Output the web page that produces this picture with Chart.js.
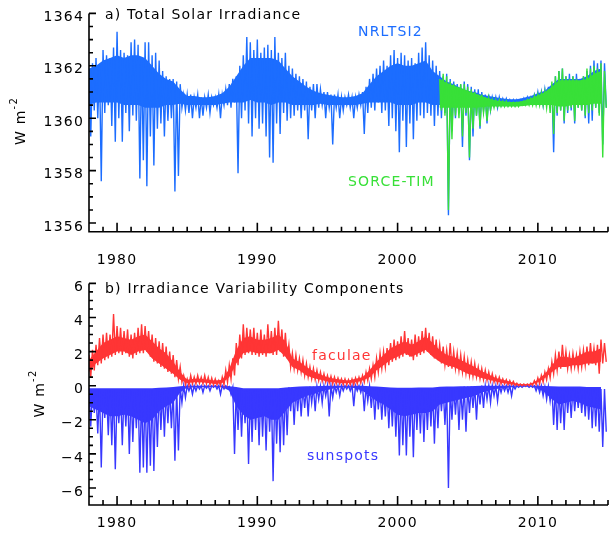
<!DOCTYPE html>
<html>
<head>
<meta charset="utf-8">
<script src="https://cdn.jsdelivr.net/npm/chart.js@4.4.1/dist/chart.umd.min.js"></script>
<style>
  body { margin: 0; background: #fff; }
  #wrap { position: relative; width: 610px; height: 535px; }
  canvas { position: absolute; left: 0; }
  #tsi { top: 0; }
  #comp { top: 270px; }
</style>
</head>
<body>
<div id="wrap">
  <canvas id="tsi" width="610" height="270"></canvas>
  <canvas id="comp" width="610" height="265"></canvas>
</div>
<script>
// spikes: one high / low pair every quarter year; dense core: every half year
const startYear = 1978
const sorceStart = 2003
const stepYears = 0.25
const coreStep = 0.5
const tickYears = [1980, 1990, 2000, 2010]
const tsiTicks = [1356, 1358, 1360, 1362, 1364]
const compTicks = [-6, -4, -2, 0, 2, 4, 6]

// NRLTSI2 total solar irradiance (W m-2), 1978.00 .. 2014.75
const nrltsiHi = [
  1361.8, 1362.1, 1362.3, 1362.0, 1362.6, 1362.4, 1362.3, 1362.7,
  1363.3, 1362.6, 1362.5, 1362.4, 1362.9, 1363.0, 1362.8, 1362.3,
  1362.9, 1362.9, 1362.4, 1362.5, 1362.2, 1361.8, 1361.6, 1361.5,
  1361.5, 1361.4, 1361.3, 1360.9, 1360.9, 1360.9, 1360.8, 1360.9,
  1360.8, 1360.8, 1360.9, 1360.8, 1360.8, 1360.9, 1360.9, 1361.1,
  1361.3, 1361.5, 1361.6, 1362.0, 1362.4, 1363.1, 1362.9, 1362.6,
  1363.0, 1362.5, 1362.7, 1362.8, 1362.6, 1363.1, 1362.5, 1362.3,
  1362.5, 1362.0, 1361.9, 1361.7, 1361.6, 1361.5, 1361.4, 1361.2,
  1361.3, 1361.3, 1361.1, 1361.0, 1361.0, 1360.9, 1360.9, 1360.9,
  1360.8, 1360.8, 1360.9, 1360.8, 1360.8, 1360.9, 1361.0, 1361.2,
  1361.5, 1361.7, 1361.9, 1362.0, 1362.2, 1362.0, 1362.4, 1362.6,
  1362.3, 1362.5, 1362.4, 1362.2, 1362.3, 1362.1, 1362.5, 1362.7,
  1362.9, 1362.4, 1362.2, 1362.0, 1361.8, 1361.6, 1361.7, 1361.5,
  1361.4, 1361.3, 1361.3, 1361.4, 1361.3, 1361.2, 1361.1, 1361.1,
  1361.0, 1360.9, 1360.9, 1360.8, 1360.8, 1360.8, 1360.75, 1360.75,
  1360.7, 1360.7, 1360.7, 1360.7, 1360.75, 1360.8, 1360.8, 1360.9,
  1361.0, 1361.0, 1361.1, 1361.2, 1361.3, 1361.6, 1361.8, 1361.9,
  1361.6, 1361.7, 1361.6, 1361.7, 1361.5, 1361.6, 1361.8, 1362.0,
  1362.2, 1362.1, 1362.2, 1362.1,
]
const nrltsiLo = [
  1359.3, 1360.3, 1360.0, 1357.6, 1360.2, 1360.5, 1359.7, 1359.1,
  1360.0, 1359.1, 1360.2, 1359.5, 1360.1, 1359.9, 1357.7, 1358.4,
  1357.4, 1359.3, 1358.2, 1359.6, 1359.8, 1359.3, 1359.9, 1360.0,
  1357.2, 1357.8, 1360.4, 1360.3, 1360.2, 1360.0, 1360.4, 1360.0,
  1360.1, 1360.4, 1360.2, 1360.5, 1360.4, 1360.0, 1360.5, 1360.5,
  1360.4, 1360.6, 1357.9, 1360.0, 1360.3, 1359.8, 1359.3, 1360.0,
  1359.6, 1359.8, 1359.3, 1358.5, 1358.3, 1359.8, 1359.4, 1360.2,
  1359.9, 1360.0, 1360.1, 1360.3, 1360.0, 1360.3, 1359.2, 1360.3,
  1360.0, 1360.4, 1360.5, 1360.0, 1360.4, 1359.0, 1360.4, 1360.0,
  1360.3, 1360.5, 1360.4, 1360.0, 1360.4, 1360.5, 1359.4, 1360.2,
  1360.4, 1360.3, 1360.6, 1360.2, 1360.3, 1359.7, 1360.0, 1359.5,
  1358.7, 1359.9, 1358.9, 1359.8, 1359.2, 1359.9, 1360.1, 1360.0,
  1360.2, 1360.1, 1359.7, 1360.1, 1360.0, 1360.2, 1356.3, 1359.5,
  1360.0, 1360.2, 1358.9, 1360.1, 1358.4, 1359.3, 1360.1, 1359.6,
  1360.3, 1359.8, 1360.3, 1360.5, 1360.4, 1360.5, 1360.55, 1360.5,
  1360.5, 1360.5, 1360.55, 1360.55, 1360.55, 1360.6, 1360.6, 1360.6,
  1360.6, 1360.5, 1360.6, 1360.4, 1358.7, 1360.1, 1360.3, 1359.8,
  1360.2, 1360.3, 1359.8, 1360.4, 1360.3, 1360.0, 1359.8, 1359.9,
  1360.4, 1360.2, 1359.0, 1360.4,
]
// NRLTSI2 dense core, 1978.0 .. 2014.5
const nrltsiCoreHi = [
  1361.9, 1362.0, 1362.2, 1362.3, 1362.4, 1362.3, 1362.4, 1362.4,
  1362.3, 1362.0, 1361.7, 1361.5, 1361.4, 1361.1, 1360.85, 1360.85,
  1360.8, 1360.8, 1360.85, 1360.95, 1361.2, 1361.6, 1362.0, 1362.3,
  1362.3, 1362.3, 1362.3, 1362.2, 1361.9, 1361.6, 1361.4, 1361.2,
  1361.05, 1360.95, 1360.9, 1360.85, 1360.8, 1360.8, 1360.85, 1360.95,
  1361.3, 1361.6, 1361.8, 1362.0, 1362.1, 1362.0, 1362.0, 1362.1,
  1362.2, 1361.8, 1361.6, 1361.4, 1361.3, 1361.15, 1361.05, 1361.0,
  1360.9, 1360.85, 1360.8, 1360.75, 1360.72, 1360.72, 1360.78, 1360.85,
  1360.95, 1361.05, 1361.3, 1361.5, 1361.5, 1361.5, 1361.5, 1361.6,
  1361.8, 1361.9,
]
const nrltsiCoreLo = [
  1360.5, 1360.6, 1360.6, 1360.6, 1360.6, 1360.5, 1360.5, 1360.5,
  1360.4, 1360.4, 1360.4, 1360.5, 1360.5, 1360.55, 1360.5, 1360.5,
  1360.5, 1360.5, 1360.5, 1360.55, 1360.6, 1360.6, 1360.6, 1360.7,
  1360.6, 1360.6, 1360.5, 1360.6, 1360.6, 1360.5, 1360.5, 1360.5,
  1360.5, 1360.55, 1360.5, 1360.5, 1360.5, 1360.5, 1360.5, 1360.55,
  1360.6, 1360.6, 1360.6, 1360.6, 1360.5, 1360.5, 1360.5, 1360.6,
  1360.6, 1360.5, 1360.5, 1360.5, 1360.5, 1360.5, 1360.5, 1360.5,
  1360.5, 1360.5, 1360.5, 1360.5, 1360.5, 1360.5, 1360.55, 1360.55,
  1360.55, 1360.6, 1360.6, 1360.6, 1360.6, 1360.6, 1360.6, 1360.6,
  1360.7, 1360.7,
]

// SORCE-TIM (W m-2), 2003.00 .. 2014.75
const sorceHi = [
  1361.5, 1361.7, 1361.6, 1361.4, 1361.3, 1361.2, 1361.3, 1361.3,
  1361.2, 1361.1, 1361.0, 1360.9, 1360.9, 1360.8, 1360.75, 1360.7,
  1360.7, 1360.7, 1360.65, 1360.65, 1360.6, 1360.6, 1360.6, 1360.6,
  1360.65, 1360.7, 1360.75, 1360.85, 1360.9, 1360.95, 1361.0, 1361.1,
  1361.4, 1361.6, 1361.8, 1361.9, 1361.6, 1361.5, 1361.6, 1361.5,
  1361.4, 1361.6, 1361.9, 1361.9, 1362.0, 1361.9, 1362.1, 1361.8,
]
const sorceLo = [
  1360.3, 1360.1, 1356.5, 1359.2, 1360.1, 1360.0, 1359.3, 1360.2,
  1358.5, 1359.6, 1360.1, 1359.7, 1360.2, 1359.9, 1360.3, 1360.4,
  1360.45, 1360.45, 1360.45, 1360.45, 1360.45, 1360.45, 1360.45, 1360.5,
  1360.5, 1360.5, 1360.5, 1360.5, 1360.5, 1360.5, 1360.4, 1360.2,
  1359.4, 1360.2, 1360.3, 1359.9, 1360.3, 1360.4, 1359.9, 1360.4,
  1360.3, 1360.1, 1360.2, 1360.3, 1360.4, 1360.1, 1358.5, 1360.4,
]
// SORCE-TIM dense core, 2003.0 .. 2014.5
const sorceCoreHi = [
  1361.5, 1361.35, 1361.25, 1361.15, 1361.05, 1360.95, 1360.85, 1360.75,
  1360.68, 1360.65, 1360.62, 1360.62, 1360.67, 1360.75, 1360.88, 1361.0,
  1361.2, 1361.45, 1361.45, 1361.45, 1361.45, 1361.5, 1361.7, 1361.8,
]
const sorceCoreLo = [
  1360.4, 1360.4, 1360.4, 1360.4, 1360.4, 1360.4, 1360.42, 1360.45,
  1360.45, 1360.45, 1360.45, 1360.45, 1360.47, 1360.5, 1360.5, 1360.5,
  1360.5, 1360.45, 1360.45, 1360.5, 1360.5, 1360.5, 1360.55, 1360.55,
]

// facular brightening (W m-2), 1978.00 .. 2014.75
const faculaeHi = [
  1.8, 2.1, 2.4, 2.8, 3.0, 3.1, 3.0, 4.2,
  3.5, 3.4, 3.2, 3.3, 3.0, 3.1, 3.4, 3.6,
  3.5, 3.2, 3.0, 2.8, 2.6, 2.5, 2.3, 2.0,
  1.8, 1.5, 1.1, 0.6, 0.4, 0.6, 0.5, 0.6,
  0.5, 0.6, 0.5, 0.45, 0.4, 0.3, 0.5, 0.9,
  1.2, 1.6, 2.5, 3.0, 3.6, 3.4, 3.3, 3.4,
  3.1, 3.3, 3.0, 3.6, 3.2, 3.4, 3.8, 3.3,
  3.1, 2.4, 1.9, 1.8, 1.6, 1.5, 1.3, 1.1,
  1.0, 0.9, 0.8, 0.7, 0.6, 0.55, 0.5, 0.45,
  0.4, 0.4, 0.35, 0.4, 0.45, 0.5, 0.6, 0.8,
  1.0, 1.2, 1.6, 1.9, 2.0, 2.2, 2.5, 2.7,
  2.6, 2.9, 3.2, 2.8, 2.7, 3.0, 2.9, 3.2,
  3.4, 3.1, 2.9, 2.7, 2.4, 2.3, 2.1, 2.5,
  2.0, 1.9, 1.8, 1.7, 1.5, 1.4, 1.3, 1.1,
  1.0, 0.9, 0.8, 0.7, 0.55, 0.5, 0.4, 0.35,
  0.3, 0.25, 0.15, 0.1, 0.1, 0.1, 0.15, 0.3,
  0.45, 0.6, 0.8, 1.0, 1.4, 1.8, 2.0, 2.4,
  2.0, 1.8, 1.9, 1.8, 2.0, 2.1, 2.3, 2.5,
  2.2, 2.4, 2.7, 2.5,
]
const faculaeLo = [
  0.5, 0.9, 1.2, 1.3, 1.5, 1.6, 1.7, 1.8,
  1.9, 1.8, 1.9, 1.7, 1.6, 1.8, 1.9, 1.9,
  2.0, 1.7, 1.4, 1.3, 1.1, 1.0, 0.8, 0.7,
  0.5, 0.4, 0.2, 0.05, 0.0, 0.1, 0.1, 0.15,
  0.1, 0.1, 0.05, 0.05, 0.05, 0.0, 0.05, 0.2,
  0.4, 0.6, 1.2, 1.6, 1.8, 1.9, 1.8, 1.8,
  1.7, 1.8, 1.7, 1.9, 1.8, 1.8, 2.0, 1.7,
  1.6, 1.1, 1.0, 0.9, 0.8, 0.6, 0.5, 0.4,
  0.35, 0.3, 0.25, 0.2, 0.15, 0.1, 0.1, 0.1,
  0.05, 0.05, 0.05, 0.05, 0.1, 0.15, 0.2, 0.3,
  0.4, 0.5, 0.8, 1.0, 1.1, 1.2, 1.4, 1.5,
  1.6, 1.7, 1.8, 1.7, 1.5, 1.7, 1.8, 1.9,
  2.0, 1.8, 1.6, 1.5, 1.3, 1.2, 1.1, 1.0,
  1.0, 0.9, 0.8, 0.7, 0.6, 0.55, 0.5, 0.4,
  0.35, 0.3, 0.25, 0.2, 0.15, 0.1, 0.1, 0.05,
  0.05, 0.02, 0.0, 0.0, 0.0, 0.0, 0.02, 0.05,
  0.1, 0.2, 0.35, 0.45, 0.7, 0.9, 1.0, 1.1,
  1.0, 1.0, 1.1, 1.0, 1.1, 1.2, 1.2, 1.3,
  1.2, 0.7, 1.3, 1.4,
]
// faculae dense core, 1978.0 .. 2014.5
const faculaeCoreHi = [
  1.5, 2.0, 2.5, 2.7, 2.9, 2.8, 2.7, 2.9,
  3.0, 2.6, 2.2, 1.9, 1.4, 0.8, 0.35, 0.4,
  0.4, 0.35, 0.3, 0.35, 1.0, 2.1, 2.8, 2.9,
  2.7, 2.7, 2.8, 3.0, 2.6, 1.6, 1.4, 1.1,
  0.85, 0.65, 0.5, 0.4, 0.35, 0.3, 0.4, 0.5,
  0.9, 1.4, 1.8, 2.2, 2.4, 2.6, 2.4, 2.6,
  2.9, 2.5, 2.1, 1.8, 1.7, 1.5, 1.3, 1.1,
  0.85, 0.65, 0.45, 0.35, 0.25, 0.12, 0.08, 0.12,
  0.35, 0.7, 1.2, 1.7, 1.7, 1.6, 1.8, 2.0,
  2.0, 2.2,
]
const faculaeCoreLo = [
  0.8, 1.3, 1.6, 1.8, 2.0, 2.0, 1.8, 2.0,
  2.1, 1.6, 1.3, 1.0, 0.7, 0.35, 0.15, 0.2,
  0.2, 0.15, 0.1, 0.15, 0.5, 1.3, 1.9, 2.0,
  1.9, 1.9, 1.9, 2.1, 1.7, 1.1, 0.9, 0.6,
  0.45, 0.35, 0.25, 0.2, 0.15, 0.15, 0.2, 0.3,
  0.5, 0.9, 1.2, 1.5, 1.7, 1.9, 1.7, 1.9,
  2.1, 1.7, 1.4, 1.2, 1.1, 0.9, 0.7, 0.6,
  0.45, 0.35, 0.25, 0.15, 0.1, 0.03, 0.02, 0.05,
  0.2, 0.45, 0.8, 1.1, 1.1, 1.2, 1.2, 1.3,
  1.3, 1.4,
]

// sunspot darkening (W m-2), 1978.00 .. 2014.75
const sunspotsHi = [
  -0.3, -0.3, -0.4, -0.2, -0.4, -0.3, -0.3, -0.2,
  -0.4, -0.3, -0.3, -0.2, -0.3, -0.4, -0.2, -0.3,
  -0.2, -0.3, -0.2, -0.3, -0.2, -0.3, -0.2, -0.2,
  -0.2, -0.1, -0.1, 0.0, 0.0, 0.0, 0.0, 0.0,
  0.0, 0.0, 0.0, 0.0, 0.0, 0.0, 0.0, 0.0,
  -0.05, -0.1, -0.2, -0.2, -0.3, -0.3, -0.2, -0.3,
  -0.3, -0.2, -0.3, -0.2, -0.3, -0.2, -0.3, -0.2,
  -0.2, -0.1, -0.1, -0.1, -0.1, -0.1, -0.1, -0.05,
  -0.05, -0.05, -0.05, 0.0, 0.0, 0.0, 0.0, 0.0,
  0.0, 0.0, 0.0, 0.0, 0.0, 0.0, 0.0, -0.05,
  -0.05, -0.1, -0.1, -0.2, -0.2, -0.2, -0.3, -0.2,
  -0.3, -0.2, -0.3, -0.2, -0.3, -0.2, -0.3, -0.2,
  -0.3, -0.2, -0.2, -0.2, -0.1, -0.1, -0.1, -0.1,
  -0.1, -0.1, -0.1, -0.05, -0.05, -0.05, -0.05, -0.05,
  0.0, 0.0, 0.0, 0.0, 0.0, 0.0, 0.0, 0.0,
  0.0, 0.0, 0.0, 0.0, 0.0, 0.0, 0.0, 0.0,
  0.0, 0.0, -0.05, -0.05, -0.1, -0.1, -0.1, -0.2,
  -0.1, -0.2, -0.1, -0.2, -0.2, -0.2, -0.2, -0.2,
  -0.2, -0.2, -0.2, -0.2,
]
const sunspotsLo = [
  -2.4, -1.6, -2.8, -4.8, -1.9, -2.9, -3.5, -4.9,
  -2.2, -3.5, -2.4, -4.0, -3.3, -2.5, -5.1, -4.8,
  -5.1, -4.7, -5.0, -3.6, -2.6, -3.0, -2.2, -2.5,
  -4.4, -3.8, -1.0, -0.7, -0.3, -0.5, -0.3, -0.2,
  -0.4, -0.15, -0.3, -0.1, -0.2, -0.5, -0.2, -0.1,
  -0.5, -4.0, -2.6, -3.0, -2.2, -4.6, -3.3, -2.6,
  -3.5, -3.0, -3.8, -2.7, -5.6, -3.4, -3.9, -3.5,
  -2.9, -1.5, -2.3, -1.5, -1.8, -1.3, -1.8, -1.0,
  -1.5, -0.8, -1.0, -0.6, -1.8, -0.7, -0.4, -0.6,
  -0.3, -0.2, -0.3, -1.2, -0.3, -0.4, -1.5, -0.9,
  -1.3, -2.0, -1.4, -2.0, -1.8, -2.5, -2.4, -3.0,
  -4.1, -3.5, -4.1, -3.0, -4.2, -2.6, -2.8, -3.3,
  -2.6, -2.4, -3.4, -2.5, -1.5, -2.3, -6.0, -2.0,
  -1.7, -2.6, -2.0, -2.7, -1.6, -1.3, -2.0, -1.1,
  -1.3, -0.8, -1.0, -0.6, -0.9, -0.4, -0.3, -0.4,
  -0.6, -0.2, -0.1, -0.1, -0.05, -0.1, -0.1, -0.3,
  -0.4, -0.6, -0.8, -0.9, -2.3, -2.6, -2.2, -2.6,
  -1.6, -1.9, -1.5, -1.3, -1.6, -1.8, -2.0, -2.5,
  -2.4, -2.7, -3.6, -2.7,
]
// sunspots dense core, 1978.0 .. 2014.5
const sunspotsCoreHi = [
  -0.15, -0.15, -0.15, -0.15, -0.15, -0.15, -0.15, -0.15,
  -0.15, -0.15, -0.12, -0.1, -0.08, -0.03, 0.0, 0.0,
  0.0, 0.0, 0.0, 0.0, -0.03, -0.08, -0.15, -0.15,
  -0.15, -0.15, -0.15, -0.15, -0.1, -0.08, -0.05, -0.03,
  -0.03, -0.02, 0.0, 0.0, 0.0, 0.0, 0.0, 0.0,
  -0.03, -0.05, -0.08, -0.1, -0.12, -0.12, -0.12, -0.1,
  -0.1, -0.1, -0.06, -0.05, -0.05, -0.03, -0.03, -0.02,
  0.0, 0.0, 0.0, 0.0, 0.0, 0.0, 0.0, 0.0,
  0.0, -0.02, -0.03, -0.05, -0.05, -0.05, -0.05, -0.08,
  -0.08, -0.08,
]
const sunspotsCoreLo = [
  -1.2, -1.4, -1.6, -1.8, -1.8, -1.7, -1.8, -2.0,
  -2.2, -2.0, -1.5, -1.2, -1.0, -0.4, -0.1, -0.1,
  -0.08, -0.08, -0.08, -0.08, -0.3, -1.2, -1.7, -2.0,
  -1.9, -1.8, -2.0, -2.0, -1.5, -1.0, -0.8, -0.6,
  -0.5, -0.35, -0.25, -0.15, -0.1, -0.1, -0.15, -0.3,
  -0.6, -0.9, -1.1, -1.4, -1.7, -1.8, -1.7, -1.6,
  -1.6, -1.5, -1.1, -1.0, -0.9, -0.8, -0.7, -0.6,
  -0.4, -0.3, -0.2, -0.15, -0.1, -0.05, -0.03, -0.05,
  -0.15, -0.4, -0.8, -1.1, -1.0, -0.9, -1.0, -1.2,
  -1.3, -1.4,
]

const colors = {
  nrltsi: "#1c6dff",
  sorce: "#38e038",
  faculae: "#ff3535",
  sunspots: "#3838ff",
}
const FONT = "'DejaVu Sans'"

Chart.defaults.font.family = FONT
Chart.defaults.font.size = 14
Chart.defaults.color = "#000"

// each sample: up to its high value, then down to its low value half a step later
const zigzag = (first, hi, lo) =>
  hi.flatMap((h, i) => {
    const t = first + i * stepYears
    return [{ x: t, y: h }, { x: t + stepYears / 2, y: lo[i] }]
  })

// closed outline of the dense core: along the top, back along the bottom
const core = (first, hi, lo) => [
  ...hi.map((h, i) => ({ x: first + i * coreStep, y: h })),
  ...lo.map((l, i) => ({ x: first + i * coreStep, y: l })).reverse(),
]

const spikes = (label, data, color, order) => ({
  label,
  data,
  order,
  borderColor: color,
  borderWidth: 1.4,
  pointRadius: 0,
  tension: 0,
  fill: false,
})

const band = (label, data, color, order) => ({
  label,
  data,
  order,
  borderColor: "transparent",
  backgroundColor: color,
  borderWidth: 1,
  pointRadius: 0,
  tension: 0,
  fill: "shape",
})

const drawUnit = (ctx, cx, cy) => {
  ctx.save()
  ctx.translate(cx, cy)
  ctx.rotate(-Math.PI / 2)
  ctx.textBaseline = "middle"
  ctx.textAlign = "left"
  ctx.font = `14px ${FONT}`
  const wMain = ctx.measureText("W m").width
  ctx.font = `10px ${FONT}`
  const wSup = ctx.measureText("-2").width
  const x0 = -(wMain + wSup) / 2
  ctx.font = `14px ${FONT}`
  ctx.fillText("W m", x0, 0)
  ctx.font = `10px ${FONT}`
  ctx.fillText("-2", x0 + wMain, -7)
  ctx.restore()
}

// IDL-like frame: left and bottom axes only, ticks pointing inward
const idlFrame = {
  id: "idlFrame",
  beforeDraw(chart) {
    chart.ctx.letterSpacing = "1.2px"
  },
  afterDraw(chart, args, opts) {
    const { ctx, chartArea: a, scales: { x, y } } = chart
    ctx.save()
    ctx.fillStyle = "#000"
    ctx.strokeStyle = "#000"
    ctx.lineWidth = 1.6
    ctx.beginPath()
    ctx.moveTo(a.left, a.top)
    ctx.lineTo(a.left, a.bottom)
    ctx.lineTo(a.right, a.bottom)
    const first = Math.ceil(y.min * 2) / 2
    for (let v = first; v <= y.max + 1e-6; v += 0.5) {
      const py = y.getPixelForValue(v)
      const major = y.ticks.some((t) => Math.abs(t.value - v) < 1e-6)
      ctx.moveTo(a.left, py)
      ctx.lineTo(a.left + (major ? 7 : 4), py)
    }
    for (let yr = Math.ceil(x.min); yr <= x.max; yr++) {
      const px = x.getPixelForValue(yr)
      const major = tickYears.includes(yr)
      ctx.moveTo(px, a.bottom)
      ctx.lineTo(px, a.bottom - (major ? 9 : 5))
    }
    ctx.stroke()

    ctx.font = `14px ${FONT}`
    ctx.textBaseline = "middle"
    ctx.textAlign = "left"
    ctx.fillText(opts.title, 105, opts.titleY)
    opts.notes.forEach((n) => {
      ctx.fillStyle = n.color
      ctx.fillText(n.text, n.x, n.y)
    })
    ctx.fillStyle = "#000"
    drawUnit(ctx, opts.unitX, opts.unitY)
    ctx.restore()
  },
}

const panelOptions = (yMin, yMax, yTicks, yFmt, top, xAxisHeight, xPad, frame) => ({
  responsive: false,
  animation: false,
  devicePixelRatio: 1,
  layout: { padding: { left: 0, right: 2, top, bottom: 0 } },
  plugins: { legend: { display: false }, tooltip: { enabled: false }, idlFrame: frame },
  scales: {
    x: {
      type: "linear",
      min: startYear,
      max: 2015,
      grid: { display: false, drawTicks: false },
      border: { display: false },
      afterBuildTicks: (axis) => { axis.ticks = tickYears.map((v) => ({ value: v })) },
      afterFit: (axis) => { axis.height = xAxisHeight },
      ticks: { padding: xPad, maxRotation: 0, autoSkip: false, callback: (v) => String(v) },
    },
    y: {
      min: yMin,
      max: yMax,
      grid: { display: false, drawTicks: false },
      border: { display: false },
      afterBuildTicks: (axis) => { axis.ticks = yTicks.map((v) => ({ value: v })) },
      afterFit: (axis) => { axis.width = 89 },
      ticks: { padding: 5, labelOffset: 4, autoSkip: false, callback: yFmt },
    },
  },
})

// lower order is drawn on top: SORCE-TIM over NRLTSI2
new Chart(document.getElementById("tsi"), {
  type: "line",
  data: {
    datasets: [
      spikes("SORCE-TIM", zigzag(sorceStart, sorceHi, sorceLo), colors.sorce, 0),
      band("SORCE-TIM core", core(sorceStart, sorceCoreHi, sorceCoreLo), colors.sorce, 1),
      spikes("NRLTSI2", zigzag(startYear, nrltsiHi, nrltsiLo), colors.nrltsi, 2),
      band("NRLTSI2 core", core(startYear, nrltsiCoreHi, nrltsiCoreLo), colors.nrltsi, 3),
    ],
  },
  options: panelOptions(1355.67, 1364, tsiTicks, (v) => String(v), 10, 38.3, 20, {
    title: "a) Total Solar Irradiance",
    titleY: 15.5,
    notes: [
      { text: "NRLTSI2", x: 358, y: 32.5, color: colors.nrltsi },
      { text: "SORCE-TIM", x: 348, y: 182, color: colors.sorce },
    ],
    unitX: 21,
    unitY: 121,
  }),
  plugins: [idlFrame],
})

new Chart(document.getElementById("comp"), {
  type: "line",
  data: {
    datasets: [
      spikes("faculae", zigzag(startYear, faculaeHi, faculaeLo), colors.faculae, 0),
      band("faculae core", core(startYear, faculaeCoreHi, faculaeCoreLo), colors.faculae, 1),
      spikes("sunspots", zigzag(startYear, sunspotsHi, sunspotsLo), colors.sunspots, 2),
      band("sunspots core", core(startYear, sunspotsCoreHi, sunspotsCoreLo), colors.sunspots, 3),
    ],
  },
  options: panelOptions(-7, 6, compTicks, (v) => (v < 0 ? "\u2212" + Math.abs(v) : String(v)), 13, 30, 10, {
    title: "b) Irradiance Variability Components",
    titleY: 19.5,
    notes: [
      { text: "faculae", x: 312, y: 86, color: colors.faculae },
      { text: "sunspots", x: 307, y: 186.7, color: colors.sunspots },
    ],
    unitX: 40,
    unitY: 123.5,
  }),
  plugins: [idlFrame],
})
</script>
</body>
</html>
